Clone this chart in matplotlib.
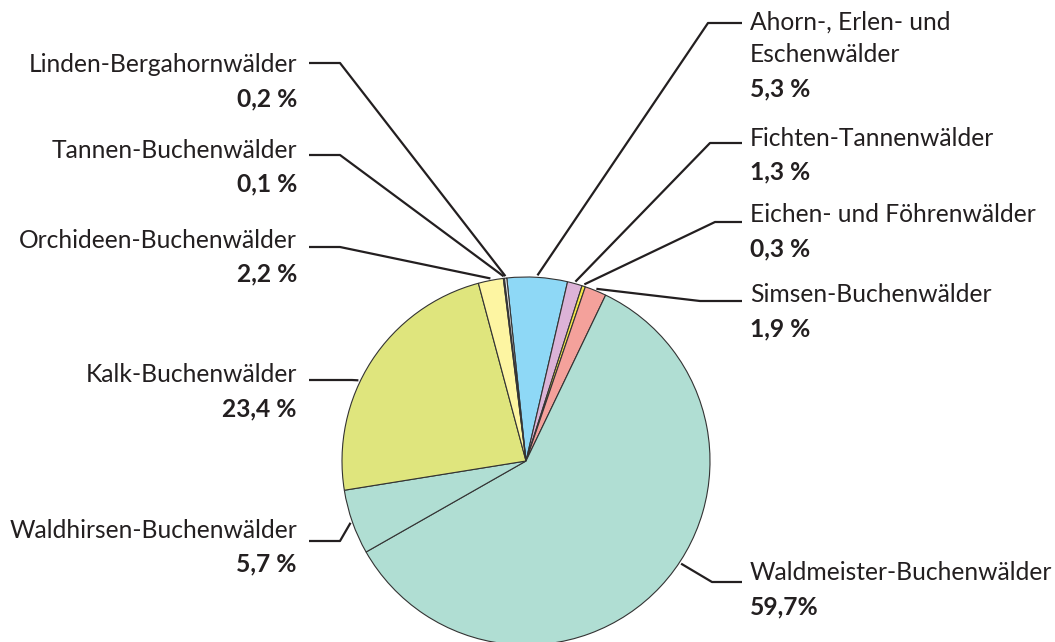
import numpy as np
import matplotlib
matplotlib.use("Agg")
import matplotlib.pyplot as plt

# data (Anteile der Waldgesellschaften)
names = ["Ahorn-, Erlen- und\nEschenwälder", "Fichten-Tannenwälder",
         "Eichen- und Föhrenwälder", "Simsen-Buchenwälder",
         "Waldmeister-Buchenwälder", "Waldhirsen-Buchenwälder",
         "Kalk-Buchenwälder", "Orchideen-Buchenwälder",
         "Tannen-Buchenwälder", "Linden-Bergahornwälder"]
shares = [5.3, 1.3, 0.3, 1.9, 59.7, 5.7, 23.4, 2.2, 0.1, 0.2]
value_labels = ["5,3 %", "1,3 %", "0,3 %", "1,9 %", "59,7%",
                "5,7 %", "23,4 %", "2,2 %", "0,1 %", "0,2 %"]
colors = ["#8ed8f6", "#dcb3d7", "#f7ea48", "#f4a19b", "#b0ded3",
          "#b0ded3", "#dfe57d", "#fdf5a2", "#d8d8d8", "#eeeeee"]

W, H = 1055, 642
CX, CY, R = 526, 461, 184

# label layout in pixel coords (y from top): side, elbow x, line y
layout = [
    ("r", 708, 23), ("r", 710, 143), ("r", 715, 222), ("r", 700, 301),
    ("r", 712, 582), ("l", 340, 541), ("l", 352, 380), ("l", 340, 247),
    ("l", 340, 155), ("l", 340, 63),
]
name_y = [22, 138, 215, 295, 573, 530, 375, 240, 150, 65]
anchor_override = {4: -33.5, 6: 154.3}

fig = plt.figure(figsize=(W / 100, H / 100), dpi=100)
ax = fig.add_axes([0, 0, 1, 1])

wedges, _ = ax.pie(shares, colors=colors, startangle=96, counterclock=False,
                   center=(CX, H - CY), radius=R,
                   wedgeprops=dict(edgecolor="#333333", linewidth=0.8))
ax.set_xlim(0, W)
ax.set_ylim(0, H)
ax.set_aspect("equal")
ax.axis("off")

plt.rcParams["font.family"] = ["Lato", "DejaVu Sans"]
fs = 17.7
tc = "#231f20"

for i, w in enumerate(wedges):
    ang = anchor_override.get(i, (w.theta1 + w.theta2) / 2)
    px = CX + (R + 2) * np.cos(np.radians(ang))
    py = (H - CY) + (R + 2) * np.sin(np.radians(ang))
    side, ex, ly = layout[i]
    if side == "r":
        xs = [px, ex, 742]
        tx, ha = 750, "left"
    else:
        xs = [px, ex, 309]
        tx, ha = 297, "right"
    ys = [py, H - ly, H - ly]
    ax.plot(xs, ys, color="#231f20", lw=1.6, solid_capstyle="butt")
    lines = names[i].split("\n")
    for k, s in enumerate(lines):
        ax.text(tx, H - (name_y[i] + 33 * k), s, ha=ha, va="center",
                fontsize=fs, color=tc)
    vy = name_y[i] + 33 * len(lines) + 1
    ax.text(tx, H - vy, value_labels[i], ha=ha, va="center",
            fontsize=fs, fontweight="bold", color=tc)

fig.savefig("out.png", dpi=100)
